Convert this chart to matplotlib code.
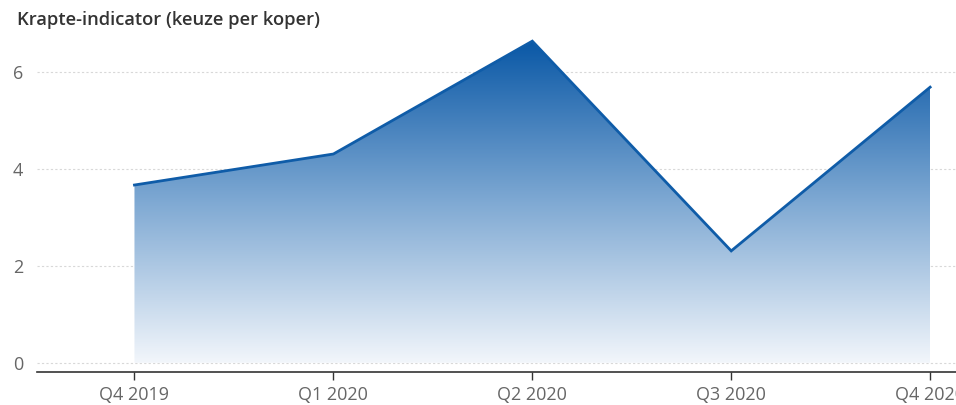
import matplotlib
matplotlib.use("Agg")
import matplotlib.pyplot as plt
import numpy as np
from matplotlib.colors import LinearSegmentedColormap
from matplotlib.patches import Polygon

categories = ["Q4 2019", "Q1 2020", "Q2 2020", "Q3 2020", "Q4 2020"]
values = [3.67, 4.31, 6.64, 2.31, 5.69]
yticks = [0, 2, 4, 6]
title = "Krapte-indicator (keuze per koper)"

plt.rcParams['font.family'] = ['Open Sans', 'DejaVu Sans']

fig = plt.figure(figsize=(9.56, 4.05), dpi=100)
ax = fig.add_axes([37/956, 1-372/405, 1-37/956, (372-30)/405])

x = np.arange(len(categories))
ymin, ymax = -0.19, 6.87
ax.set_xlim(-0.49, 4.13)
ax.set_ylim(ymin, ymax)

# gradient fill
cmap = LinearSegmentedColormap.from_list("g", ["#f2f6fb", "#7fa9d3", "#0a58a6"])
grad = np.linspace(0, 1, 256).reshape(-1, 1)
top = max(values)
im = ax.imshow(grad, extent=[x[0], x[-1], 0, top], origin="lower", aspect="auto",
               cmap=cmap, zorder=2)
poly_pts = [(x[0], 0)] + list(zip(x, values)) + [(x[-1], 0)]
poly = Polygon(poly_pts, closed=True, facecolor="none", edgecolor="none")
ax.add_patch(poly)
im.set_clip_path(poly)

ax.plot(x, values, color="#0f5ca8", lw=2, zorder=3, solid_joinstyle="miter")

ax.set_yticks(yticks)
ax.set_yticklabels([str(t) for t in yticks])
ax.set_xticks(x)
ax.set_xticklabels(categories)
ax.grid(axis="y", color="#d8d8d8", linestyle=(0, (2, 2)), linewidth=0.8, zorder=1)
for s in ["top", "right", "left"]:
    ax.spines[s].set_visible(False)
ax.spines["bottom"].set_color("#333333")
ax.spines["bottom"].set_linewidth(1.2)
ax.tick_params(axis="y", length=0, labelsize=13, labelcolor="#666666", pad=10)
ax.tick_params(axis="x", length=6, width=1, color="#333333", labelsize=13,
               labelcolor="#666666", pad=4)

fig.text(17/956, 1-20/405, title, fontsize=13.2, fontweight="semibold", color="#333333",
         va="center", ha="left")

fig.savefig("out.png", dpi=100)
